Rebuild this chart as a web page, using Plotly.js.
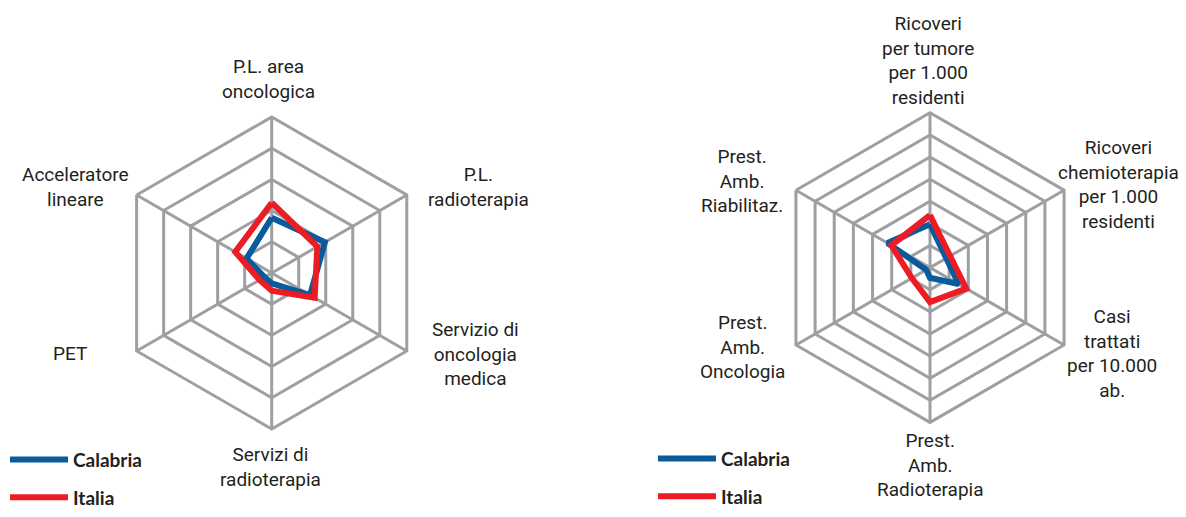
<!DOCTYPE html>
<html>
<head>
<meta charset="utf-8">
<script src="https://cdn.plot.ly/plotly-3.0.1.min.js"></script>
<style>html,body{margin:0;padding:0;background:#fff}#chart{width:1186px;height:517px}</style>
</head>
<body>
<div id="chart"></div>
<script>
// ---- Left chart: strutture ----
const leftCategories = ["P.L. area oncologica", "P.L. radioterapia", "Servizio di oncologia medica", "Servizi di radioterapia", "PET", "Acceleratore lineare"];
const leftLabels = ["P.L. area<br>oncologica", "P.L.<br>radioterapia", "Servizio di<br>oncologia<br>medica", "Servizi di<br>radioterapia", "PET", "Acceleratore<br>lineare"];
const leftCalabria = [1.77, 1.97, 1.42, 0.33, 0.27, 0.93];
const leftItalia = [2.25, 1.69, 1.59, 0.57, 0.45, 1.35];

// ---- Right chart: attività ----
const rightCategories = ["Ricoveri per tumore per 1.000 residenti", "Ricoveri chemioterapia per 1.000 residenti", "Casi trattati per 10.000 ab.", "Prest. Amb. Radioterapia", "Prest. Amb. Oncologia", "Prest. Amb. Riabilitaz."];
const rightLabels = ["Ricoveri<br>per tumore<br>per 1.000<br>residenti", "Ricoveri<br>chemioterapia<br>per 1.000<br>residenti", "Casi<br>trattati<br>per 10.000<br>ab.", "Prest.<br>Amb.<br>Radioterapia", "Prest.<br>Amb.<br>Oncologia", "Prest.<br>Amb.<br>Riabilitaz."];
const rightCalabria = [1.96, 0.85, 1.5, 0.46, 0.2, 2.22];
const rightItalia = [2.37, 1.05, 1.89, 1.56, 0.95, 2.02];

const seriesNames = ["Calabria", "Italia"];
const seriesColors = ["#0a5b9c", "#ed1c24"];

const W = 1186, H = 517;
const close = a => a.concat([a[0]]);

function trace(r, theta, i, subplot, legend) {
  return {
    type: "scatterpolar", mode: "lines",
    r: close(r), theta: close(theta),
    name: seriesNames[i], subplot: subplot, legend: legend,
    legendgroup: subplot + i,
    line: {color: seriesColors[i], width: 6},
    hoverinfo: "skip"
  };
}

const data = [
  trace(leftCalabria, leftCategories, 0, "polar", "legend"),
  trace(leftItalia, leftCategories, 1, "polar", "legend"),
  trace(rightCalabria, rightCategories, 0, "polar2", "legend2"),
  trace(rightItalia, rightCategories, 1, "polar2", "legend2")
];

const grid = "#9d9fa2";
function polar(xdom, ydom, maxR, cats) {
  return {
    domain: {x: xdom, y: ydom},
    gridshape: "linear",
    bgcolor: "rgba(0,0,0,0)",
    radialaxis: {range: [0, maxR], dtick: 1, showticklabels: false, ticks: "", showline: false,
                 gridcolor: grid, gridwidth: 3},
    angularaxis: {type: "category", categoryarray: cats, rotation: 90, direction: "clockwise",
                  showticklabels: false, ticks: "", showline: true, linecolor: grid, linewidth: 3,
                  gridcolor: grid, gridwidth: 3}
  };
}

function px(x) { return x / W; }
function py(y) { return 1 - y / H; }

const labelFont = {family: "Roboto, Liberation Sans, sans-serif", size: 19, color: "#231f20"};
const leftPos = [[268, 81], [478, 192], [475, 363], [270, 479], [70, 363], [75, 192]];
const rightPos = [[928, 62], [1118, 189], [1112, 363], [930, 477], [742, 356], [742, 186]];
const annotations = [];
leftLabels.forEach((t, i) => annotations.push({text: t, xref: "paper", yref: "paper", x: px(leftPos[i][0]), y: py(leftPos[i][1]), xanchor: "center", yanchor: "middle", showarrow: false, font: labelFont}));
rightLabels.forEach((t, i) => annotations.push({text: t, xref: "paper", yref: "paper", x: px(rightPos[i][0]), y: py(rightPos[i][1]), xanchor: "center", yanchor: "middle", showarrow: false, font: labelFont}));

const legendFont = {family: "Lato, Noto Sans, sans-serif", size: 19, color: "#231f20", weight: "bold"};
function legend(x, y) {
  return {x: px(x), y: py(y), xanchor: "left", yanchor: "top", orientation: "v",
          font: legendFont, itemwidth: 58, tracegroupgap: 10, bgcolor: "rgba(0,0,0,0)", borderwidth: 0};
}

const layout = {
  width: W, height: H,
  margin: {l: 0, r: 0, t: 0, b: 0},
  paper_bgcolor: "#fff",
  showlegend: true,
  polar: polar([px(111.7), px(431.7)], [py(440), py(120)], 5, leftCategories),
  polar2: polar([px(771.2), px(1088.8)], [py(433.3), py(115.7)], 7, rightCategories),
  legend: legend(5, 452),
  legend2: legend(653, 451),
  annotations: annotations
};

Plotly.newPlot("chart", data, layout, {displayModeBar: false, staticPlot: true});
</script>
</body>
</html>
